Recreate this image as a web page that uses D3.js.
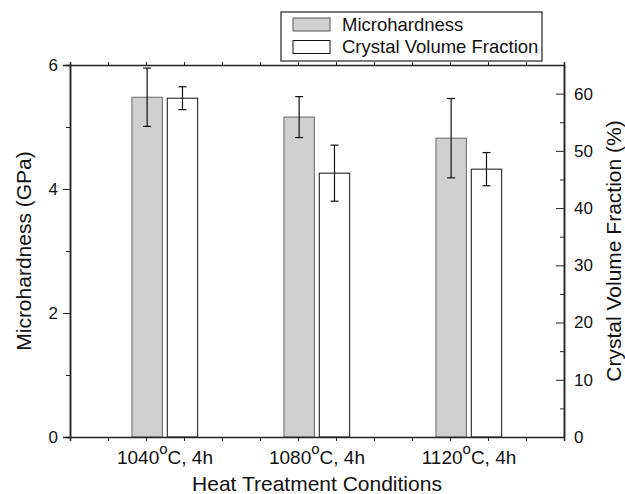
<!DOCTYPE html>
<html>
<head>
<meta charset="utf-8">
<script src="https://cdn.jsdelivr.net/npm/d3@7"></script>
<style>
  body { margin: 0; background: #fff; }
  text { font-family: "Liberation Sans", Arial, sans-serif; fill: #111; }
</style>
</head>
<body>
<div id="chart"></div>
<script>
// data
const temps = ["1040", "1080", "1120"];
const groupPos = [2.5, 6.5, 10.5];          // category centres on the x axis
const hardness = [5.48, 5.16, 4.82];        // GPa
const hardnessErr = [0.47, 0.33, 0.64];
const fraction = [59.2, 46.1, 46.8];        // %
const fractionErr = [2.0, 4.9, 2.9];
const leftTicks = [0, 2, 4, 6];
const rightTicks = [0, 10, 20, 30, 40, 50, 60];

const width = 625, height = 494;
const margin = {top: 65, right: 61, bottom: 57, left: 70};

const svg = d3.select("#chart").append("svg")
    .attr("width", width)
    .attr("height", height);

// scales
const x = d3.scaleLinear().domain([0, 13]).range([margin.left, width - margin.right]);
const yL = d3.scaleLinear().domain([0, 6]).range([height - margin.bottom, margin.top]);
const yR = d3.scaleLinear().domain([0, 65]).range([height - margin.bottom, margin.top]);

const rows = temps.map((t, i) => ({
  t: t, c: groupPos[i],
  h: hardness[i], he: hardnessErr[i],
  f: fraction[i], fe: fractionErr[i]
}));

// bars
const plot = svg.append("g");

plot.selectAll(".hbar").data(rows).enter().append("rect")
    .attr("class", "hbar")
    .attr("x", d => x(d.c - 0.87))
    .attr("width", d => x(d.c - 0.07) - x(d.c - 0.87))
    .attr("y", d => yL(d.h))
    .attr("height", d => yL(0) - yL(d.h))
    .style("fill", "#d0d0d0")
    .style("stroke", "#666")
    .style("stroke-width", 1);

plot.selectAll(".fbar").data(rows).enter().append("rect")
    .attr("class", "fbar")
    .attr("x", d => x(d.c + 0.06))
    .attr("width", d => x(d.c + 0.86) - x(d.c + 0.06))
    .attr("y", d => yR(d.f))
    .attr("height", d => yR(0) - yR(d.f))
    .style("fill", "#fff")
    .style("stroke", "#111")
    .style("stroke-width", 1);

// error bars
function errorBars(cls, cx, yScale, val, err) {
  const g = plot.selectAll("." + cls).data(rows).enter().append("g").attr("class", cls);
  g.append("line")
    .attr("x1", d => cx(d)).attr("x2", d => cx(d))
    .attr("y1", d => yScale(val(d) + err(d))).attr("y2", d => yScale(val(d) - err(d)));
  g.append("line")
    .attr("x1", d => cx(d) - 4).attr("x2", d => cx(d) + 4)
    .attr("y1", d => yScale(val(d) + err(d))).attr("y2", d => yScale(val(d) + err(d)));
  g.append("line")
    .attr("x1", d => cx(d) - 4).attr("x2", d => cx(d) + 4)
    .attr("y1", d => yScale(val(d) - err(d))).attr("y2", d => yScale(val(d) - err(d)));
  g.selectAll("line").style("stroke", "#111").style("stroke-width", 1.2);
}
errorBars("herr", d => (x(d.c - 0.87) + x(d.c - 0.07)) / 2, yL, d => d.h, d => d.he);
errorBars("ferr", d => (x(d.c + 0.06) + x(d.c + 0.86)) / 2, yR, d => d.f, d => d.fe);

// axes
svg.append("g")
    .attr("transform", "translate(0," + yL(0) + ")")
    .call(d3.axisBottom(x).tickValues(d3.range(0, 14)).tickSize(4).tickFormat(""));
svg.append("g")
    .attr("transform", "translate(0," + yL(6) + ")")
    .call(d3.axisTop(x).tickValues(d3.range(0, 14)).tickSize(3).tickFormat(""));
svg.append("g")
    .attr("transform", "translate(" + x(0) + ",0)")
    .call(d3.axisLeft(yL).tickValues(leftTicks).tickSize(7).tickPadding(5).tickFormat(d3.format("d")));
svg.append("g")
    .attr("transform", "translate(" + x(0) + ",0)")
    .call(d3.axisLeft(yL).tickValues([1, 3, 5]).tickSize(4).tickFormat(""));
svg.append("g")
    .attr("transform", "translate(" + x(13) + ",0)")
    .call(d3.axisRight(yR).tickValues(rightTicks).tickSizeInner(-8).tickSizeOuter(0).tickPadding(10).tickFormat(d3.format("d")));
svg.append("g")
    .attr("transform", "translate(" + x(13) + ",0)")
    .call(d3.axisRight(yR).tickValues(d3.range(5, 65, 10)).tickSizeInner(-4).tickSizeOuter(0).tickFormat(""));

svg.selectAll(".domain").style("stroke", "#222").style("stroke-width", 1.5);
svg.selectAll(".tick line").style("stroke", "#222").style("stroke-width", 1);
svg.selectAll(".tick text").style("font-size", "17px").style("fill", "#111")
    .style("font-family", "'Liberation Sans', Arial, sans-serif");

// category labels with superscript degree
const lab = svg.selectAll(".cat").data(rows).enter().append("text")
    .attr("class", "cat")
    .attr("x", d => x(d.c))
    .attr("y", 464)
    .attr("text-anchor", "middle")
    .style("font-size", "19px");
lab.append("tspan").text(d => d.t);
lab.append("tspan").attr("dy", -10).style("font-size", "15px").text("o");
lab.append("tspan").attr("dy", 10).text("C, 4h");

// axis titles
svg.append("text")
    .attr("x", (x(0) + x(13)) / 2)
    .attr("y", 491)
    .attr("text-anchor", "middle")
    .style("font-size", "21px")
    .text("Heat Treatment Conditions");

svg.append("text")
    .attr("transform", "translate(31," + (yL(0) + yL(6)) / 2 + ") rotate(-90)")
    .attr("text-anchor", "middle")
    .style("font-size", "21px")
    .text("Microhardness (GPa)");

svg.append("text")
    .attr("transform", "translate(621," + (yR(0) + yR(65)) / 2 + ") rotate(-90)")
    .attr("text-anchor", "middle")
    .style("font-size", "21px")
    .text("Crystal Volume Fraction (%)");

// legend
const legendItems = [
  {name: "Microhardness", fill: "#d0d0d0", stroke: "#555"},
  {name: "Crystal Volume Fraction", fill: "#fff", stroke: "#111"}
];
const legend = svg.append("g").attr("transform", "translate(281,12)");
legend.append("rect")
    .attr("width", 261).attr("height", 49)
    .style("fill", "#fff").style("stroke", "#222").style("stroke-width", 1.2);
const li = legend.selectAll(".li").data(legendItems).enter().append("g")
    .attr("transform", (d, i) => "translate(12," + (6 + i * 22.5) + ")");
li.append("rect")
    .attr("width", 37).attr("height", 13)
    .style("fill", d => d.fill).style("stroke", d => d.stroke).style("stroke-width", 1);
li.append("text")
    .attr("x", 49).attr("y", 12.5)
    .style("font-size", "18.5px")
    .text(d => d.name);
</script>
</body>
</html>
